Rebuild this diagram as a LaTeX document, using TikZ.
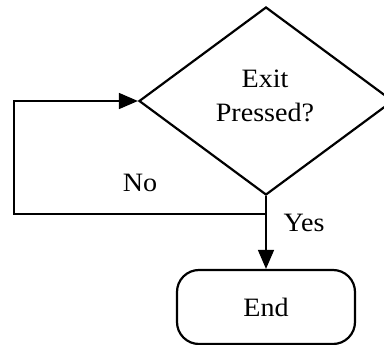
\documentclass[tikz,border=0pt]{standalone}
\usepackage{fontspec}
\setmainfont[FakeStretch=1.06]{Liberation Serif}
\usetikzlibrary{shapes.geometric,arrows.meta}
\begin{document}
\begin{tikzpicture}[x=1pt,y=-1pt,
  shapeline/.style={draw=black,line width=2.2pt},
  conn/.style={draw=black,line width=1.6pt},
  tip/.style={-{Triangle[length=19pt,width=16pt]}},
  txt/.style={font=\fontsize{26.5}{34}\selectfont,inner sep=0pt,align=center},
  decision/.style={shapeline,diamond,minimum width=254pt,minimum height=188pt,inner sep=0pt},
  terminal/.style={shapeline,rectangle,rounded corners=22pt,minimum width=178pt,minimum height=74pt,inner sep=0pt,txt}]
\useasboundingbox (0,0) rectangle (384,345);
\node[decision] (dec) at (266,101) {};
\node[txt] (q) at (265,96) {Exit\\Pressed?};
\node[terminal] (end) at (266,307) {End};
\coordinate (j) at (266,214);
\coordinate (lb) at (14,214);
\coordinate (lt) at (14,101);
\draw[conn] (dec.south) -- (j);
\draw[conn,tip] (j) -- (end.north);
\draw[conn,tip] (j) -- (lb) -- (lt) -- (dec.west);
\node[txt] (no) at (140,183) {No};
\node[txt] (yes) at (304,223) {Yes};
\end{tikzpicture}
\end{document}
